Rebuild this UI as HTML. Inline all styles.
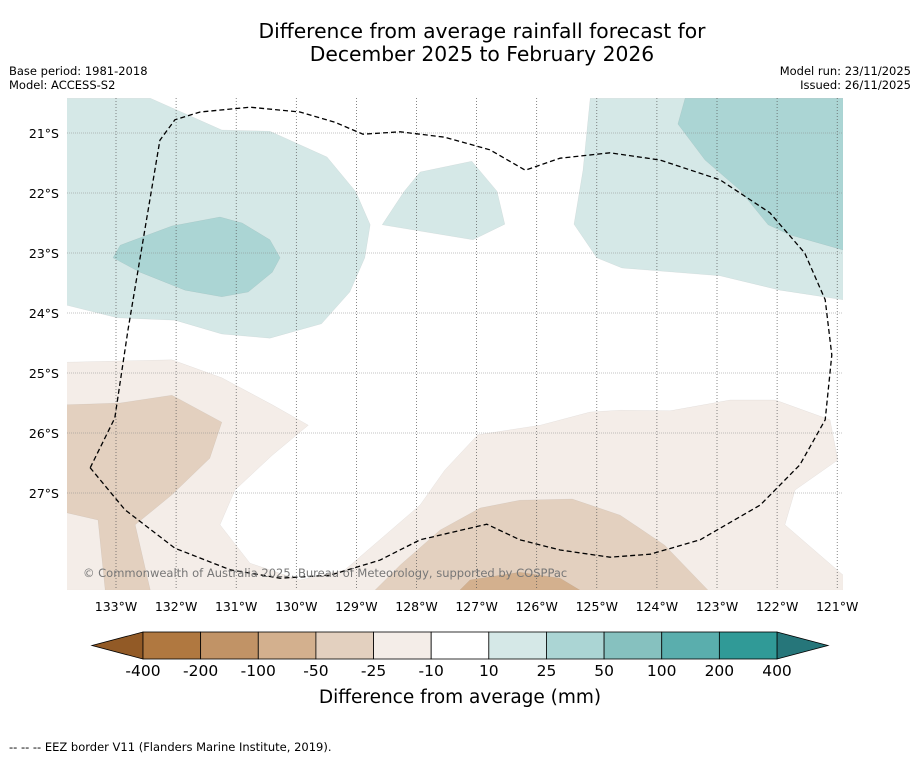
<!DOCTYPE html>
<html><head><meta charset="utf-8"><style>
body{margin:0;background:#fff;}
svg text{font-family:"DejaVu Sans","Liberation Sans",sans-serif;}
</style></head><body>
<svg id="chart" width="919" height="758" viewBox="0 0 919 758" xmlns="http://www.w3.org/2000/svg">
<rect width="919" height="758" fill="#fff"/>
<text x="482" y="38" font-size="20.3" text-anchor="middle" fill="#000">Difference from average rainfall forecast for</text>
<text x="482" y="61" font-size="20.3" text-anchor="middle" fill="#000">December 2025 to February 2026</text>
<text x="9" y="75" font-size="11.5">Base period: 1981-2018</text>
<text x="9" y="89" font-size="11.5">Model: ACCESS-S2</text>
<text x="911" y="75" font-size="11.5" text-anchor="end">Model run: 23/11/2025</text>
<text x="911" y="89" font-size="11.5" text-anchor="end">Issued: 26/11/2025</text>
<defs><clipPath id="mapclip"><rect x="67" y="98" width="776" height="492"/></clipPath></defs>
<g id="regions" clip-path="url(#mapclip)"></g>
<g id="grid"></g>
<g id="eez"></g>
<g id="ticks"></g>
<text x="83" y="577" font-size="11.5" fill="#777">© Commonwealth of Australia 2025, Bureau of Meteorology, supported by COSPPac</text>
<g id="cbar"></g>
<text x="460" y="703" font-size="18.5" text-anchor="middle">Difference from average (mm)</text>
<text x="9" y="751" font-size="11.5">--  --  -- EEZ border V11 (Flanders Marine Institute, 2019).</text>
</svg>
<script>
const lonTicks=[133,132,131,130,129,128,127,126,125,124,123,122,121];
const latTicks=[21,22,23,24,25,26,27];
const cbarLabels=["-400","-200","-100","-50","-25","-10","10","25","50","100","200","400"];
const cbarColors=["#b07840","#c19366","#d3b08e","#e3d0bf","#f4ede8","#ffffff","#d5e8e7","#abd5d4","#86c1bf","#5aaead","#309a97"];
const cbarExtendColors=["#925a26","#26767a"];
const regionTeal1A=[[133.82,20.42],[132.43,20.42],[131.24,20.95],[130.44,20.97],[129.49,21.4],[129.01,21.98],[128.77,22.53],[128.86,23.08],[129.11,23.65],[129.58,24.18],[130.44,24.42],[131.24,24.35],[132.02,24.12],[132.98,24.08],[133.82,23.87]];
const regionTeal2A=[[133.05,23.08],[132.93,22.87],[132.07,22.55],[131.27,22.4],[130.9,22.5],[130.44,22.78],[130.27,23.08],[130.4,23.32],[130.8,23.65],[131.24,23.73],[131.85,23.62],[132.6,23.32]];
const regionTeal1B=[[128.57,22.53],[128.21,21.98],[127.94,21.65],[127.08,21.47],[126.66,21.97],[126.53,22.52],[127.06,22.78]];
const regionTeal1C=[[125.11,20.42],[120.9,20.42],[120.9,23.78],[121.95,23.62],[122.95,23.38],[124.58,23.25],[125.0,23.08],[125.38,22.52],[125.23,21.62]];
const regionTeal2C=[[123.53,20.42],[120.9,20.42],[120.9,22.95],[121.78,22.7],[122.15,22.53],[122.62,21.95],[123.2,21.45],[123.65,20.85]];
const regionBrown1=[[133.82,24.82],[132.07,24.78],[131.24,25.08],[130.4,25.53],[129.8,25.87],[130.4,26.37],[131.02,26.95],[131.27,27.53],[130.77,28.17],[129.94,28.45],[129.19,28.28],[128.61,27.78],[127.94,27.2],[127.53,26.62],[126.98,26.03],[125.94,25.87],[125.11,25.65],[124.61,25.62],[123.78,25.63],[122.78,25.45],[122.03,25.45],[121.12,25.78],[120.99,26.45],[121.7,26.95],[121.87,27.53],[120.9,28.37],[120.9,28.62],[133.82,28.62]];
const regionBrown2A=[[133.82,25.53],[132.93,25.5],[132.07,25.37],[131.24,25.82],[131.44,26.42],[132.07,27.03],[132.68,27.53],[132.43,28.62],[133.18,28.62],[133.3,27.45],[133.82,27.33]];
const regionBrown2B=[[128.69,28.62],[128.27,28.2],[127.61,27.62],[126.94,27.25],[126.28,27.12],[125.41,27.1],[124.61,27.37],[123.87,27.87],[123.15,28.62]];
const regionBrown3=[[127.28,28.62],[127.11,28.45],[126.28,28.32],[125.61,28.42],[125.28,28.62]];
const regions=[[4,regionBrown1],[3,regionBrown2A],[3,regionBrown2B],[2,regionBrown3],[6,regionTeal1A],[7,regionTeal2A],[6,regionTeal1B],[6,regionTeal1C],[7,regionTeal2C]];
const eezLon=[133.43,133.02,132.8,132.27,132.02,131.6,130.77,129.94,129.36,128.89,128.27,127.53,126.78,126.19,125.61,124.78,123.95,122.95,122.12,121.54,121.2,121.09,121.2,121.62,122.28,123.28,124.11,124.78,125.61,126.28,126.83,127.94,128.61,129.44,130.27,131.1,132.02,132.85,133.43];
const eezLat=[26.58,25.75,24.28,21.12,20.78,20.65,20.57,20.65,20.82,21.02,20.98,21.07,21.28,21.62,21.42,21.33,21.45,21.78,22.33,23.0,23.78,24.7,25.78,26.53,27.2,27.78,28.02,28.07,27.95,27.78,27.52,27.78,28.12,28.37,28.42,28.28,27.92,27.28,26.58];

const NS="http://www.w3.org/2000/svg";
const xOf=lonW=>116+(133-lonW)*60.1;
const yOf=latS=>133+(latS-21)*60;
function mk(tag,attrs,parent){const e=document.createElementNS(NS,tag);for(const k in attrs)e.setAttribute(k,attrs[k]);parent.appendChild(e);return e;}
const gR=document.getElementById('regions');
regions.forEach(([ci,pts])=>{
  const p=mk('polygon',{points:pts.map(q=>xOf(q[0]).toFixed(1)+','+yOf(q[1]).toFixed(1)).join(' '),fill:cbarColors[ci],stroke:'rgba(0,0,0,0.08)','stroke-width':0.5},gR);
  
  
});
const gG=document.getElementById('grid');
lonTicks.forEach(l=>{const x=xOf(l);const ln=mk('line',{x1:x,x2:x,y1:98,y2:590,stroke:'#555','stroke-width':0.7,'stroke-dasharray':'1,2'},gG);
  
  });
latTicks.forEach(l=>{const y=yOf(l);const ln=mk('line',{x1:67,x2:843,y1:y,y2:y,stroke:'#888','stroke-width':0.6,'stroke-dasharray':'1,1'},gG);
  
  });
const gE=document.getElementById('eez');
const eez=mk('polyline',{points:eezLon.map((l,i)=>xOf(l).toFixed(1)+','+yOf(eezLat[i]).toFixed(1)).join(' '),fill:'none',stroke:'#000','stroke-width':1.3,'stroke-dasharray':'5,3'},gE);


const gT=document.getElementById('ticks');
lonTicks.forEach(l=>{const t=mk('text',{x:xOf(l),y:611,'font-size':12.5,'text-anchor':'middle'},gT);t.textContent=l+'°W';
  
  });
latTicks.forEach(l=>{const t=mk('text',{x:59,y:yOf(l)+5,'font-size':12.5,'text-anchor':'end'},gT);t.textContent=l+'°S';
  
  });
const gC=document.getElementById('cbar');
const cx0=143,cx1=777,cy=632,ch=27,cw=(cx1-cx0)/cbarColors.length;
const lt=mk('polygon',{points:`${cx0},${cy} ${cx0},${cy+ch} 92,${cy+ch/2}`,fill:cbarExtendColors[0],stroke:'#000','stroke-width':0.8},gC);


const rt=mk('polygon',{points:`${cx1},${cy} ${cx1},${cy+ch} 828,${cy+ch/2}`,fill:cbarExtendColors[1],stroke:'#000','stroke-width':0.8},gC);


cbarColors.forEach((c,i)=>{const r=mk('rect',{x:cx0+i*cw,y:cy,width:cw,height:ch,fill:c,stroke:'#000','stroke-width':0.8},gC);
  
  });
cbarLabels.forEach((s,i)=>{const t=mk('text',{x:cx0+i*cw,y:676,'font-size':15.5,'text-anchor':'middle'},gC);t.textContent=s;
  
  });
</script>
</body></html>
